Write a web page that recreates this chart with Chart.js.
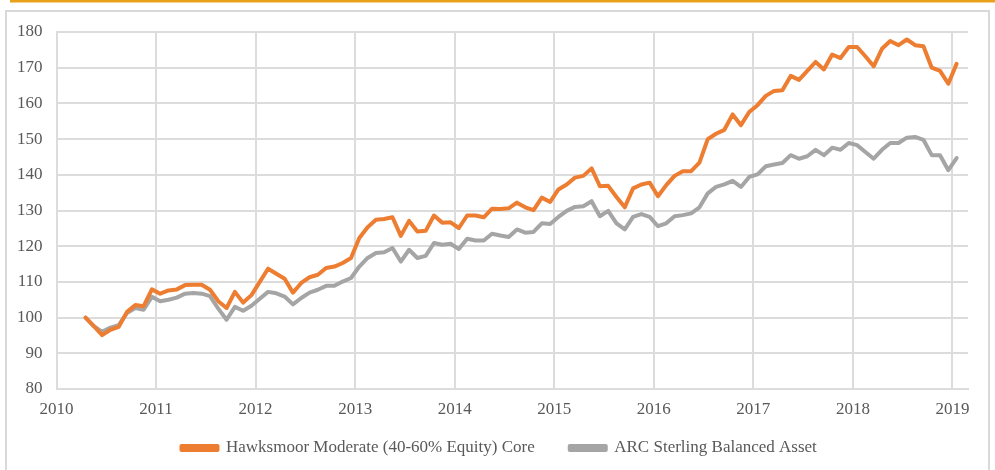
<!DOCTYPE html>
<html>
<head>
<meta charset="utf-8">
<script src="https://cdn.jsdelivr.net/npm/chart.js@4.4.1/dist/chart.umd.min.js"></script>
<style>
  html, body { margin: 0; padding: 0; background: #ffffff; }
  #wrap { position: relative; width: 995px; height: 470px; }
</style>
</head>
<body>
<div id="wrap"><canvas id="c" width="995" height="470"></canvas></div>
<script>
// Series names
const seriesNames = ["Hawksmoor Moderate (40-60% Equity) Core", "ARC Sterling Balanced Asset"];

// Monthly observations, April 2010 to January 2019
const startYear = 2010;
const startMonth = 4; // April
const hawksmoor = [
  100.0, 97.6, 95.1, 96.6, 97.4, 101.6, 103.5, 103.2, 107.9,
  106.7, 107.6, 107.9, 109.1, 109.2, 109.2, 107.8, 104.6, 102.7, 107.2, 104.2, 106.3, 110.0,
  113.7, 112.3, 110.9, 107.0, 109.7, 111.3, 112.0, 113.9, 114.3, 115.3, 116.7, 122.3,
  125.3, 127.4, 127.6, 128.1, 122.9, 127.1, 124.1, 124.3, 128.6, 126.6, 126.7, 125.1,
  128.6, 128.6, 128.1, 130.5, 130.4, 130.6, 132.2, 130.9, 130.1, 133.6, 132.4, 135.9,
  137.3, 139.2, 139.7, 141.8, 136.8, 136.9, 133.8, 130.9, 136.2, 137.3, 137.8, 134.0,
  137.1, 139.7, 141.0, 141.0, 143.4, 150.0, 151.5, 152.6, 156.9, 153.9, 157.6, 159.5,
  162.1, 163.5, 163.7, 167.7, 166.6, 169.1, 171.6, 169.5, 173.7, 172.7, 175.8, 175.8,
  173.2, 170.4, 175.3, 177.5, 176.3, 177.9, 176.3, 176.0, 170.0, 169.1, 165.5, 171.1
];
const arcBalanced = [
  100.0, 97.6, 96.0, 97.2, 97.9, 101.3, 102.7, 102.2, 105.8,
  104.6, 105.0, 105.6, 106.7, 106.9, 106.7, 106.0, 102.5, 99.4, 103.0, 101.9, 103.3, 105.3,
  107.2, 106.8, 105.9, 103.7, 105.5, 107.0, 107.8, 108.9, 108.9, 110.1, 111.1, 114.3,
  116.7, 118.1, 118.3, 119.5, 115.7, 119.0, 116.7, 117.3, 120.9, 120.4, 120.7, 119.2,
  122.1, 121.6, 121.6, 123.5, 123.0, 122.6, 124.7, 123.8, 124.0, 126.4, 126.2, 128.2,
  129.9, 131.0, 131.2, 132.6, 128.4, 129.9, 126.4, 124.7, 128.2, 129.0, 128.2, 125.6,
  126.4, 128.4, 128.7, 129.2, 130.9, 134.8, 136.6, 137.3, 138.3, 136.6, 139.4, 140.1,
  142.4, 142.9, 143.3, 145.5, 144.5, 145.2, 147.0, 145.5, 147.6, 147.0, 148.9, 148.3,
  146.4, 144.5, 147.0, 148.9, 148.9, 150.4, 150.6, 149.8, 145.5, 145.5, 141.3, 144.7
];

// Axis ticks
const yTicks = [80, 90, 100, 110, 120, 130, 140, 150, 160, 170, 180];
const xYears = [2010, 2011, 2012, 2013, 2014, 2015, 2016, 2017, 2018, 2019];

// Time position of each monthly observation (mid-month, in fractional years)
const monthPos = hawksmoor.map((_, i) => {
  const m = startMonth - 1 + i;
  return startYear + Math.floor(m / 12) + ((m % 12) + 0.5) / 12;
});

const toPoints = arr => arr.map((v, i) => ({ x: monthPos[i], y: v }));

const framePlugin = {
  id: 'frame',
  beforeDraw(chart) {
    const ctx = chart.ctx;
    ctx.save();
    ctx.fillStyle = '#ffffff';
    ctx.fillRect(0, 0, chart.width, chart.height);
    ctx.fillStyle = '#E9A11B';
    ctx.fillRect(10, 0, chart.width - 10, 2.5);
    ctx.strokeStyle = '#D9D9D9';
    ctx.lineWidth = 2;
    ctx.strokeRect(6, 11, 983, 480);
    ctx.restore();
  }
};

// place the legend where the original puts it
const legendPlace = {
  id: 'legendPlace',
  afterLayout(chart) {
    const l = chart.legend;
    if (!l) return;
    const w = l.width, h = l.height;
    l.left = 146.5; l.right = l.left + w;
    l.top = 404.5; l.bottom = l.top + h;
  }
};

const fontFamily = "'Liberation Serif', 'DejaVu Serif', serif";
const textColor = '#595959';
const gridColor = '#DCDCDC';

new Chart(document.getElementById('c'), {
  type: 'line',
  data: {
    datasets: [
      {
        label: seriesNames[0],
        data: toPoints(hawksmoor),
        borderColor: '#ED7D31',
        backgroundColor: '#ED7D31',
        borderWidth: 4,
        pointRadius: 0,
        tension: 0,
        borderJoinStyle: 'round',
        borderCapStyle: 'round'
      },
      {
        label: seriesNames[1],
        data: toPoints(arcBalanced),
        borderColor: '#A5A5A5',
        backgroundColor: '#A5A5A5',
        borderWidth: 4,
        pointRadius: 0,
        tension: 0,
        borderJoinStyle: 'round',
        borderCapStyle: 'round'
      }
    ]
  },
  options: {
    responsive: false,
    animation: false,
    layout: { padding: { left: 3, right: 27, top: 32, bottom: -11 } },
    plugins: {
      legend: {
        position: 'bottom',
        align: 'start',
        labels: {
          boxWidth: 36,
          boxHeight: 4,
          padding: 35,
          color: textColor,
          font: { family: fontFamily, size: 17 }
        }
      },
      tooltip: { enabled: false }
    },
    scales: {
      x: {
        type: 'linear',
        min: 2010,
        max: 2019.156,
        afterBuildTicks(scale) { scale.ticks = xYears.map(v => ({ value: v })); },
        afterFit(scale) { scale.height = 30; },
        ticks: {
          color: textColor,
          font: { family: fontFamily, size: 17 },
          padding: 10,
          maxRotation: 0,
          callback: v => String(v)
        },
        grid: { color: gridColor, lineWidth: 2, drawTicks: false },
        border: { color: gridColor, width: 2 }
      },
      y: {
        min: 80,
        max: 180,
        afterBuildTicks(scale) { scale.ticks = yTicks.map(v => ({ value: v })); },
        ticks: {
          color: textColor,
          font: { family: fontFamily, size: 17 },
          padding: 14
        },
        grid: { color: gridColor, lineWidth: 2, drawTicks: false },
        border: { color: gridColor, width: 2 }
      }
    }
  },
  plugins: [framePlugin, legendPlace]
});
</script>
</body>
</html>
